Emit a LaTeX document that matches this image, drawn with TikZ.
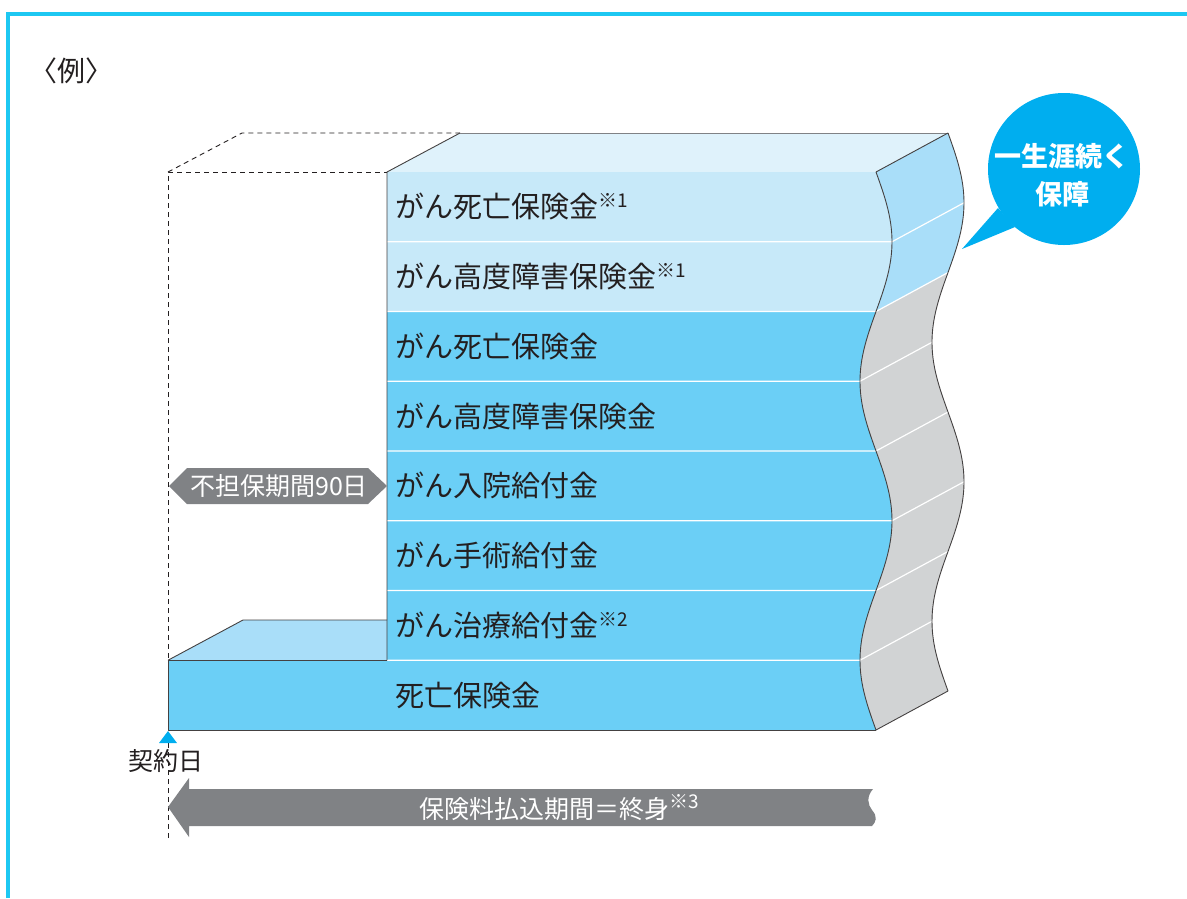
\documentclass[tikz,border=0pt]{standalone}
\usepackage{fontspec}
\setmainfont{Noto Sans CJK JP}
\definecolor{frame}{HTML}{1DC8F2}
\definecolor{mainblue}{HTML}{6BCFF6}
\definecolor{lightfront}{HTML}{C7E9F9}
\definecolor{topface}{HTML}{DFF2FB}
\definecolor{sidelight}{HTML}{A9DEF9}
\definecolor{sidegrey}{HTML}{D1D3D4}
\definecolor{taggrey}{HTML}{808285}
\definecolor{bubble}{HTML}{00AEEF}
\definecolor{ink}{HTML}{231F20}
\tikzset{
  outline/.style={draw=ink!85, line width=0.9pt, line join=round},
  dashline/.style={draw=ink, line width=0.9pt, dash pattern=on 5pt off 4pt},
  sep/.style={draw=white, line width=1.2pt},
  rowlabel/.style={anchor=west, text=ink, font=\fontsize{29}{29}\selectfont, inner sep=0pt},
  whitetext/.style={text=white, inner sep=0pt},
}
\newcommand{\supmark}[1]{{\fontsize{19}{19}\selectfont\raisebox{10pt}{#1}}}
\begin{document}
\begin{tikzpicture}[x=1pt,y=-1pt]
\useasboundingbox (0,0) rectangle (1187,898);
% frame
\draw[frame, line width=4pt] (8,898) -- (8,13.5) -- (1187,13.5);
\node[text=ink, font=\fontsize{28}{28}\selectfont, inner sep=0pt] (rei) at (72,71) {〈例〉};
% dashed guide lines
\draw[dashline] (168,838) -- (168,172) -- (387,172);
\draw[dashline] (168,172) -- (242,133) -- (460,133);
% top face of the upper block
\fill[topface] (387,172) -- (460,133) -- (948,133) -- (876,172) -- cycle;
% right side faces
\fill[sidelight] (876,172) -- plot[domain=172:311.5,samples=40,variable=\t] ({876+16*sin(((\t-172)/279)*360)},\t)
   -- plot[domain=272.5:133,samples=40,variable=\t] ({948+16*sin(((\t-133)/279)*360)},\t) -- cycle;
\fill[sidegrey] (876,311.5) -- plot[domain=311.5:730,samples=80,variable=\t] ({876+16*sin(((\t-172)/279)*360)},\t)
   -- plot[domain=691:272.5,samples=80,variable=\t] ({948+16*sin(((\t-133)/279)*360)},\t) -- cycle;
% front faces
\fill[lightfront] (387,172) -- plot[domain=172:311.5,samples=40,variable=\t] ({876+16*sin(((\t-172)/279)*360)},\t) -- (387,311.5) -- cycle;
\fill[mainblue] (387,311.5) -- plot[domain=311.5:730,samples=80,variable=\t] ({876+16*sin(((\t-172)/279)*360)},\t) -- (168,730) -- (168,660.25) -- (387,660.25) -- cycle;
% lower top face
\fill[sidelight] (168,660.25) -- (243,620) -- (387,620) -- (387,660.25) -- cycle;
% separators
\foreach \k in {1,...,7}{
  \pgfmathsetmacro\yy{172+69.75*\k}
  \pgfmathsetmacro\xx{876+16*sin(((\yy-172)/279)*360)}
  \draw[sep] (387,\yy) -- (\xx,\yy) -- (\xx+72,\yy-39);
}
% outlines
\draw[outline] plot[domain=172:730,samples=120,variable=\t] ({876+16*sin(((\t-172)/279)*360)},\t);
\draw[outline] plot[domain=133:691,samples=120,variable=\t] ({948+16*sin(((\t-133)/279)*360)},\t);
\draw[outline] (387,660.25) -- (387,172) -- (460,133);
\draw[draw=taggrey, line width=0.9pt] (460,133) -- (948,133);
\draw[outline] (948,133) -- (876,172);
\draw[outline] (876,730) -- (948,691);
\draw[outline] (876,730) -- (168,730) -- (168,660.25) -- (387,660.25);
\draw[outline] (168,660.25) -- (243,620) -- (387,620);
% row labels
\node[rowlabel] (r1) at (395,206.9) {がん死亡保険金\supmark{※1}};
\node[rowlabel] (r2) at (395,276.6) {がん高度障害保険金\supmark{※1}};
\node[rowlabel] (r3) at (395,346.4) {がん死亡保険金};
\node[rowlabel] (r4) at (395,416.1) {がん高度障害保険金};
\node[rowlabel] (r5) at (395,485.9) {がん入院給付金};
\node[rowlabel] (r6) at (395,555.6) {がん手術給付金};
\node[rowlabel] (r7) at (395,625.4) {がん治療給付金\supmark{※2}};
\node[rowlabel] (r8) at (395,695.1) {死亡保険金};
% not-covered tag
\fill[taggrey] (169,486) -- (187,468) -- (368,468) -- (387,486) -- (368,504) -- (187,504) -- cycle;
\node[whitetext, font=\fontsize{25}{25}\selectfont] (tag) at (279,486) {不担保期間90日};
% contract day marker
\fill[bubble] (168,731) -- (177,743) -- (159,743) -- cycle;
\node[text=ink, font=\fontsize{25}{25}\selectfont, inner sep=0pt] (day) at (166,761) {契約日};
% premium payment arrow
\fill[taggrey] (168,807) -- (189,778) -- (189,789) -- (873,789)
  .. controls (866,797) and (868,805) .. (872,810)
  .. controls (878,817) and (876,822) .. (872,826)
  -- (189,826) -- (189,837) -- cycle;
\node[whitetext, font=\fontsize{25}{25}\selectfont] (pay) at (559,808) {保険料払込期間＝終身\supmark{※3}};
% bubble
\fill[bubble] (998,208) -- (962,249) -- (1015,227) -- cycle;
\fill[bubble] (1064,169) circle[radius=76];
\node[whitetext, font=\fontsize{27}{38}\selectfont\bfseries, align=center] (bub) at (1062,175) {一生涯続く\\保障};
\end{tikzpicture}
\end{document}
